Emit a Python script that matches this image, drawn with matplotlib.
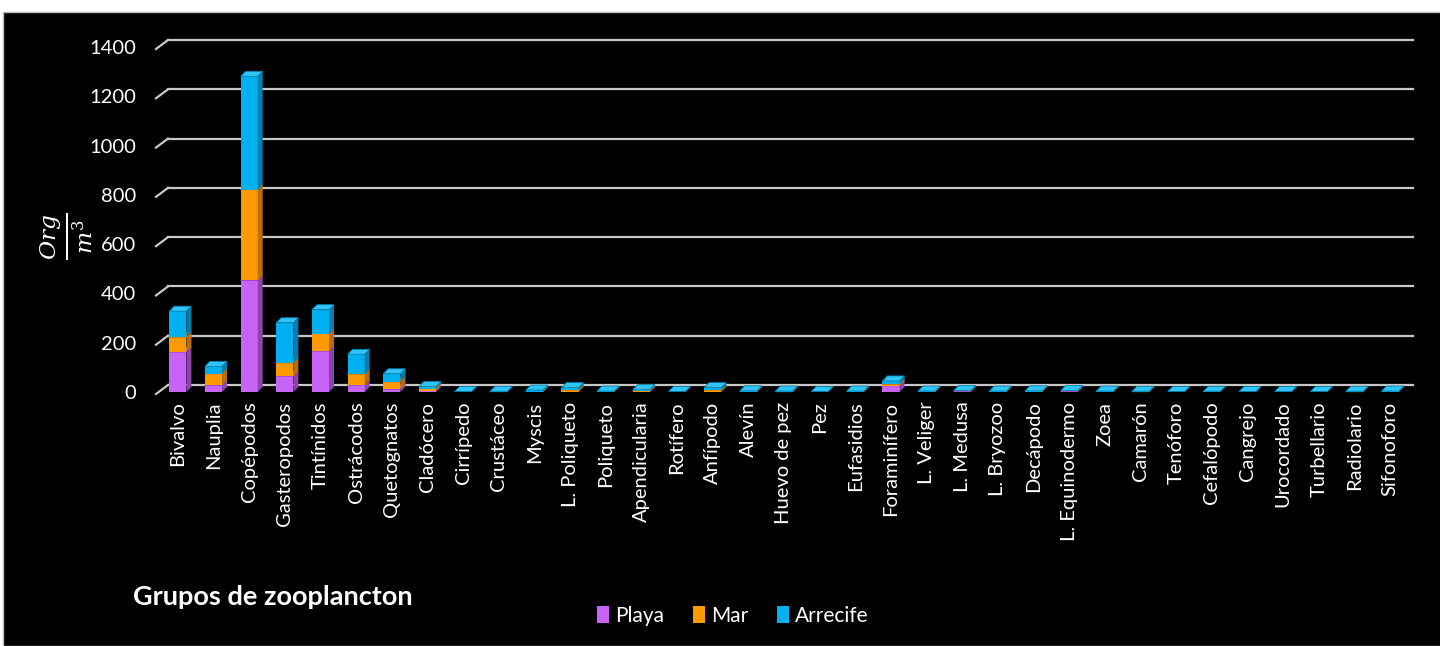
import numpy as np
import matplotlib.pyplot as plt
from matplotlib.patches import Rectangle, Polygon, Patch
from matplotlib.lines import Line2D

categories = ["Bivalvo", "Nauplia", "Copépodos", "Gasteropodos", "Tintínidos",
              "Ostrácodos", "Quetognatos", "Cladócero", "Cirrípedo", "Crustáceo",
              "Myscis", "L. Poliqueto", "Poliqueto", "Apendicularia", "Rotífero",
              "Anfípodo", "Alevín", "Huevo de pez", "Pez", "Eufasidios",
              "Foraminífero", "L. Veliger", "L. Medusa", "L. Bryozoo", "Decápodo",
              "L. Equinodermo", "Zoea", "Camarón", "Tenóforo", "Cefalópodo",
              "Cangrejo", "Urocordado", "Turbellario", "Radiolario", "Sifonoforo"]
playa = [162, 27, 453, 64, 166, 28, 11, 6, 0, 1, 0, 0, 0, 2, 0, 0, 0, 0, 0, 0,
         25, 0, 3, 0, 0, 3, 0, 0, 0, 0, 0, 0, 0, 0, 0]
mar = [61, 47, 368, 54, 71, 44, 30, 8, 0, 0, 2, 8, 2, 3, 0, 8, 2, 1, 0, 2,
       6, 2, 0, 2, 2, 0, 2, 1, 0, 0, 0, 0, 0, 1, 2]
arrecife = [105, 30, 460, 163, 97, 81, 33, 8, 2, 2, 6, 10, 2, 5, 2, 10, 3, 3, 2, 2,
            14, 2, 3, 2, 3, 3, 2, 2, 2, 3, 2, 2, 2, 2, 2]
series = [("Playa", playa), ("Mar", mar), ("Arrecife", arrecife)]
yticks = [0, 200, 400, 600, 800, 1000, 1200, 1400]

front = {"Playa": "#C864F5", "Mar": "#FF9900", "Arrecife": "#00B0F0"}
side = {"Playa": "#8A44AA", "Mar": "#B86E00", "Arrecife": "#007FAE"}
top = {"Playa": "#D88CFA", "Mar": "#FFB240", "Arrecife": "#30C4F8"}

plt.rcParams['font.family'] = ['Lato', 'DejaVu Sans']
plt.rcParams['mathtext.fontset'] = 'dejavuserif'

W, H = 1440, 646
fig = plt.figure(figsize=(W / 100, H / 100), dpi=100, facecolor="white")
bg = Rectangle((3 / W, 0), 1, 1 - 12 / H, transform=fig.transFigure,
               facecolor="black", edgecolor="#bbbbbb", lw=1, zorder=-10)
fig.add_artist(bg)

# front plane of the bars: y=0 at 392px, y=1400 at 47px; x from 160 to 1408px
ax = fig.add_axes([160 / W, 1 - 392 / H, (1408 - 160) / W, (392 - 47) / H])
ax.set_facecolor("none")
n = len(categories)
ax.set_xlim(-0.5, n - 0.5)
ax.set_ylim(0, 1400)
for s in ax.spines.values():
    s.set_visible(False)

px_x = n / (1408 - 160)       # data units per pixel
px_y = 1400 / (392 - 47)
dx, dy = 5 * px_x, 5 * px_y

# back wall gridlines with slanted floor edge on the left
for v in yticks:
    yw = v + 7 * px_y
    ax.add_line(Line2D([-0.5 + 8 * px_x, n - 0.5 + 5 * px_x], [yw, yw],
                       color="#c8c8c8", lw=1.6, clip_on=False, zorder=1))
    ax.add_line(Line2D([-0.5 - 4 * px_x, -0.5 + 8 * px_x], [yw - 9 * px_y, yw],
                       color="#c8c8c8", lw=1.6, clip_on=False, zorder=1))

x = np.arange(n)
width = 0.48
bottom = np.zeros(n)
for name, vals in series:
    vals = np.array(vals, dtype=float)
    ax.bar(x, vals, width, bottom=bottom, color=front[name], zorder=3, label=name)
    for i in range(n):
        if vals[i] <= 0:
            continue
        b, t = bottom[i], bottom[i] + vals[i]
        x0, x1 = x[i] - width / 2, x[i] + width / 2
        ax.add_patch(Polygon([(x1, b), (x1 + dx, b + dy), (x1 + dx, t + dy), (x1, t)],
                             closed=True, facecolor=side[name], edgecolor="none",
                             zorder=3, clip_on=False))
        ax.add_patch(Polygon([(x0, t), (x1, t), (x1 + dx, t + dy), (x0 + dx, t + dy)],
                             closed=True, facecolor=top[name], edgecolor=side[name],
                             lw=0.6, zorder=3, clip_on=False))
    bottom = bottom + vals

ax.set_yticks(yticks)
ax.set_yticklabels([str(v) for v in yticks], color="white", fontsize=14.5)
ax.tick_params(axis="y", length=0, pad=17)
ax.set_xticks(x)
ax.set_xticklabels(categories, rotation=90, color="white", fontsize=14.5)
ax.tick_params(axis="x", length=0, pad=7)

fig.text(66 / W, 1 - 236 / H, r"$\frac{Org}{m^3}$", color="white", fontsize=24,
         rotation=90, ha="center", va="center")
fig.text(133 / W, 1 - 597 / H, "Grupos de zooplancton", color="white",
         fontsize=19.5, fontweight="bold", ha="left", va="center")

handles = [Patch(facecolor=front[nm], label=nm) for nm, _ in series]
leg = fig.legend(handles=handles, loc="center", bbox_to_anchor=(733 / W, 1 - 616 / H),
                 ncol=3, frameon=False, fontsize=15, handlelength=0.55,
                 handleheight=0.9, handletextpad=0.3, columnspacing=1.4)
for t in leg.get_texts():
    t.set_color("white")

fig.savefig("out.png", dpi=100, facecolor="white")
